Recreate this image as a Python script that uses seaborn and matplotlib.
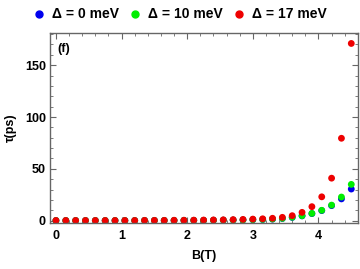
import pandas as pd
import matplotlib
matplotlib.use('Agg')
import matplotlib.pyplot as plt
import seaborn as sns
from matplotlib.ticker import MultipleLocator

# Магнитное поле B (T)
b_field = [0.0, 0.15, 0.3, 0.45, 0.6, 0.75, 0.9, 1.05, 1.2, 1.35, 1.5,
           1.65, 1.8, 1.95, 2.1, 2.25, 2.4, 2.55, 2.7, 2.85, 3.0,
           3.15, 3.3, 3.45, 3.6, 3.75, 3.9, 4.05, 4.2, 4.35, 4.5]

# Время жизни tau (ps) для разных Delta
tau_0 = [0.1, 0.1, 0.1, 0.1, 0.1, 0.1, 0.1, 0.1, 0.1, 0.2, 0.2,
         0.2, 0.2, 0.3, 0.3, 0.3, 0.4, 0.5, 0.6, 0.7, 0.9,
         1.1, 1.5, 2.1, 3.1, 4.6, 6.8, 9.7, 14.5, 21.0, 30.5]
tau_10 = [0.1, 0.1, 0.1, 0.1, 0.1, 0.1, 0.1, 0.1, 0.1, 0.2, 0.2,
          0.2, 0.2, 0.3, 0.3, 0.3, 0.4, 0.5, 0.6, 0.7, 1.0,
          1.2, 1.6, 2.2, 3.3, 4.8, 7.0, 10.0, 15.0, 22.8, 35.0]
tau_17 = [0.2, 0.2, 0.2, 0.2, 0.2, 0.2, 0.2, 0.2, 0.2, 0.3, 0.3,
          0.3, 0.4, 0.4, 0.5, 0.6, 0.7, 0.8, 1.0, 1.2, 1.5,
          1.8, 2.3, 3.2, 4.8, 8.0, 13.5, 23.0, 41.0, 79.5, 171.0]

labels = ['Δ = 0 meV', 'Δ = 10 meV', 'Δ = 17 meV']
colors = ['#0000ee', '#00ee00', '#ee0000']

df = pd.concat([
    pd.DataFrame({'B': b_field, 'tau': tau_0, 'delta': labels[0]}),
    pd.DataFrame({'B': b_field, 'tau': tau_10, 'delta': labels[1]}),
    pd.DataFrame({'B': b_field, 'tau': tau_17, 'delta': labels[2]}),
], ignore_index=True)

sns.set_style('ticks')
plt.rcParams['font.family'] = ['Liberation Sans', 'DejaVu Sans']
plt.rcParams['font.weight'] = 'bold'
plt.rcParams['text.color'] = 'black'
plt.rcParams['axes.labelcolor'] = 'black'
plt.rcParams['xtick.labelcolor'] = 'black'
plt.rcParams['ytick.labelcolor'] = 'black'

fig = plt.figure(figsize=(3.6, 2.69), dpi=100)
ax = fig.add_axes([0.139, 0.172, 0.855, 0.705])

sns.scatterplot(data=df, x='B', y='tau', hue='delta', hue_order=labels,
                palette=dict(zip(labels, colors)), s=24, linewidth=0,
                ax=ax, legend=False)

ax.set_xlim(-0.09, 4.6)
ax.set_ylim(-2, 181)
ax.xaxis.set_major_locator(MultipleLocator(1))
ax.xaxis.set_minor_locator(MultipleLocator(0.2))
ax.yaxis.set_major_locator(MultipleLocator(50))
ax.yaxis.set_minor_locator(MultipleLocator(10))

frame_color = '#666666'
for sp in ax.spines.values():
    sp.set_color(frame_color)
    sp.set_linewidth(1.0)
ax.tick_params(which='both', direction='in', top=True, right=True,
               color=frame_color, labelsize=9)
ax.tick_params(axis='x', which='major', pad=5)
ax.tick_params(axis='y', which='major', pad=3)
ax.tick_params(which='major', length=4, width=0.8)
ax.tick_params(which='minor', length=2, width=0.6)
for lab in ax.get_xticklabels() + ax.get_yticklabels():
    lab.set_fontweight('bold')

ax.set_xlabel('B(T)', fontsize=9, fontweight='bold', labelpad=6)
ax.set_ylabel('τ(ps)', fontsize=9, fontweight='bold', labelpad=5.5)
ax.text(0.023, 0.95, '(f)', transform=ax.transAxes, fontsize=9,
        fontweight='bold', va='top', ha='left')

handles = [plt.Line2D([], [], marker='o', linestyle='', color=c,
                      markersize=5) for c in colors]
fig.legend(handles, labels, loc='center', bbox_to_anchor=(0.5, 1 - 14.5 / 269),
           ncol=3, frameon=False, handletextpad=0.5,
           columnspacing=0.8, handlelength=0.8,
           prop={'weight': 'bold', 'size': 10})

fig.savefig('out.png', dpi=100)
